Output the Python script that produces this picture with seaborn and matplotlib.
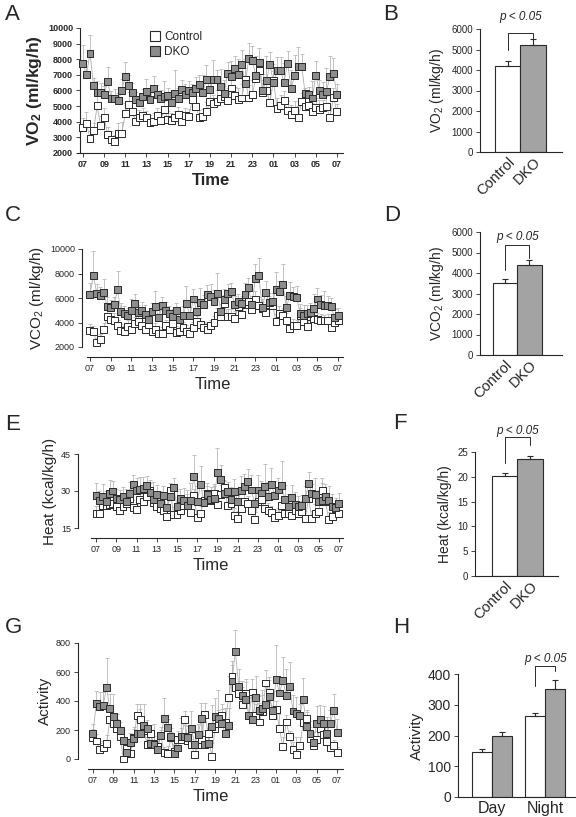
import numpy as np
import pandas as pd
import matplotlib
matplotlib.use("Agg")
import matplotlib.pyplot as plt
import seaborn as sns
from matplotlib.lines import Line2D

# --- data ------------------------------------------------------------------
GROUPS = ["Control", "DKO"]
TIME_TICKS = ["07", "09", "11", "13", "15", "17", "19", "21", "23", "01", "03", "05", "07"]

# A: VO2 over 24 h (20 min bins)
VO2_CTRL = [3660, 3870, 2930, 3420, 5010, 3780, 4290, 3170, 2890, 2740,
            3230, 3270, 4500, 5100, 4630, 4000, 4250, 4380, 4290, 3950,
            4040, 4380, 4080, 4800, 4170, 4080, 4290, 4460, 4040, 4380,
            4340, 5400, 4970, 4250, 4340, 4650, 5290, 5140, 5300, 5480,
            5610, 5350, 6160, 5650, 5440, 5520, 6710, 5520, 5740, 6780,
            7270, 5860, 6030, 5230, 6670, 4850, 5010, 5350, 4720, 4440,
            4720, 4290, 5270, 4970, 5060, 4630, 4930, 4800, 4890, 4970,
            4290, 5570, 4650]
VO2_CTRL_ERR = [600, 750, 500, 500, 700, 600, 600, 500, 500, 400,
                700, 700, 700, 800, 600, 500, 500, 500, 400, 500,
                500, 500, 400, 500, 500, 500, 400, 500, 400, 500,
                500, 600, 700, 500, 500, 600, 700, 600, 700, 700,
                700, 800, 700, 600, 700, 900, 700, 800, 900, 1000,
                700, 800, 700, 800, 600, 700, 700, 600, 600, 600,
                600, 700, 600, 600, 600, 600, 600, 600, 500, 700,
                600, 600, 500]
VO2_DKO = [7730, 7010, 8390, 6330, 5890, 5900, 5760, 6590, 5480, 5480,
           5350, 6030, 6880, 6310, 5900, 5400, 5230, 5610, 5930, 5440,
           6140, 5720, 5460, 5610, 5650, 5230, 5780, 5480, 6080, 5720,
           6030, 5890, 6140, 6400, 5900, 6730, 6080, 6730, 6730, 6250,
           5780, 7100, 6900, 7410, 7010, 7690, 6420, 8050, 7940, 6930,
           7820, 6030, 6630, 7670, 6500, 7270, 7270, 6540, 7750, 6120,
           6990, 7560, 7560, 5780, 5720, 5520, 6990, 5990, 5720, 5930,
           6880, 7100, 5720]
VO2_DKO_ERR = [1170, 900, 1150, 500, 700, 600, 500, 900, 500, 600,
               500, 700, 950, 700, 600, 500, 400, 500, 800, 650,
               800, 600, 600, 1000, 500, 500, 1500, 700, 600, 700,
               600, 500, 700, 600, 1100, 900, 700, 1200, 600, 1100,
               900, 700, 1000, 800, 1000, 900, 1600, 1000, 900, 1300,
               900, 1000, 1600, 800, 1200, 900, 900, 1200, 800, 1200,
               1300, 1200, 800, 400, 500, 1100, 900, 700, 800, 1500,
               1300, 1000, 700]

# C: VCO2
VCO2_CTRL = [3370, 3230, 2330, 2630, 3420, 4520, 4270, 4190, 3730, 3370,
             3230, 3700, 3420, 3920, 4110, 3730, 3420, 3840, 3230, 3420,
             3100, 3100, 3730, 3420, 3920, 3180, 3230, 3560, 3290, 3100,
             3560, 4050, 3840, 3560, 3450, 3730, 3970, 4550, 4470, 5560,
             4470, 4470, 4330, 5290, 4660, 5480, 5750, 5070, 5840, 5420,
             5100, 4820, 5480, 5420, 4110, 4740, 4600, 4160, 3510, 3780,
             3730, 4550, 4050, 3700, 4520, 4330, 4270, 4190, 4140, 4190,
             3590, 3970, 4190]
VCO2_CTRL_ERR = [500, 500, 400, 400, 500, 700, 500, 600, 500, 500,
                 500, 500, 500, 500, 500, 500, 500, 500, 500, 500,
                 400, 500, 500, 500, 500, 500, 400, 500, 500, 500,
                 500, 500, 500, 500, 500, 500, 600, 600, 600, 700,
                 600, 600, 600, 700, 600, 700, 700, 600, 700, 700,
                 600, 600, 700, 600, 600, 600, 600, 600, 500, 500,
                 500, 600, 500, 500, 600, 500, 500, 500, 500, 500,
                 500, 500, 500]
VCO2_DKO = [6300, 7810, 6360, 6190, 6440, 5290, 5210, 5480, 6660, 4880,
            4740, 4600, 5010, 5560, 4820, 5010, 4660, 4270, 4880, 5340,
            4380, 5370, 5010, 4710, 4470, 5010, 4270, 4550, 5560, 4550,
            5920, 4930, 5620, 5480, 6250, 6110, 5750, 6380, 4930, 5840,
            6380, 6520, 5480, 5700, 5530, 6300, 6850, 5480, 7590, 7840,
            5210, 6470, 5640, 5700, 6660, 6520, 7070, 5230, 6190, 6110,
            6050, 4740, 4550, 4740, 4820, 5150, 5920, 5480, 5370, 5370,
            5290, 4380, 4600]
VCO2_DKO_ERR = [900, 2000, 800, 700, 1100, 800, 600, 600, 1550, 700,
                600, 600, 900, 800, 600, 700, 800, 600, 700, 1200,
                600, 700, 700, 600, 600, 600, 600, 800, 1400, 700,
                800, 700, 1200, 800, 800, 1000, 900, 1700, 600, 900,
                800, 700, 700, 600, 600, 900, 800, 700, 1200, 1400,
                700, 900, 800, 700, 1500, 900, 1700, 900, 1100, 800,
                900, 800, 900, 700, 800, 1200, 900, 800, 1200, 800,
                700, 700, 600]

# E: Heat
HEAT_CTRL = [20.9, 20.9, 24.3, 24.3, 24.5, 25.0, 23.9, 22.2, 23.9, 25.0,
             27.0, 23.5, 22.5, 26.7, 25.6, 27.7, 30.1, 25.2, 23.6, 22.9,
             22.2, 19.5, 30.4, 20.5, 20.6, 22.2, 24.3, 25.9, 21.1, 28.0,
             19.2, 20.9, 26.3, 29.1, 26.3, 29.1, 24.5, 28.4, 31.5, 24.3,
             25.0, 20.2, 18.8, 22.9, 25.6, 25.0, 22.2, 18.4, 25.6, 26.7,
             22.9, 22.0, 21.1, 19.2, 20.2, 24.3, 20.9, 20.9, 20.2, 22.2,
             20.9, 21.8, 18.8, 27.0, 18.8, 20.9, 21.5, 30.1, 25.6, 18.4,
             19.5, 22.9, 20.9]
HEAT_CTRL_ERR = [3, 3, 3, 3, 3, 3, 3, 3, 3, 3,
                 4, 3, 3, 3, 3, 3, 3, 3, 3, 3,
                 3, 4, 3, 3, 3, 3, 3, 3, 4, 3,
                 3, 3, 4, 3, 3, 3, 3, 4, 3, 3,
                 3, 3, 3, 4, 3, 3, 3, 3, 4, 3,
                 3, 3, 3, 3, 3, 3, 3, 3, 3, 3,
                 3, 4, 3, 3, 3, 4, 3, 3, 3, 3,
                 3, 3, 3]
HEAT_DKO = [28.1, 26.1, 27.7, 25.9, 28.8, 30.0, 27.0, 26.6, 27.7, 25.9,
            28.8, 32.5, 30.1, 30.7, 31.1, 32.2, 29.5, 26.6, 28.6, 25.0,
            28.0, 23.3, 27.7, 31.4, 23.9, 27.0, 26.3, 24.3, 26.1, 35.9,
            25.9, 32.7, 25.4, 28.4, 26.7, 27.0, 37.5, 34.5, 29.1, 29.7,
            26.6, 29.7, 25.9, 30.1, 31.8, 33.8, 30.4, 25.0, 30.4, 29.2,
            31.8, 27.7, 32.5, 28.1, 30.4, 32.1, 26.6, 23.9, 27.3, 24.5,
            23.9, 24.3, 27.0, 32.9, 28.8, 28.4, 25.6, 26.3, 27.7, 26.1,
            23.9, 23.2, 25.0]
HEAT_DKO_ERR = [5.0, 4.0, 5.0, 4.0, 5.5, 4.0, 4.0, 4.0, 4.0, 5.0,
                5.0, 4.0, 5.0, 5.0, 4.5, 4.0, 5.0, 7.0, 4.0, 5.0,
                4.0, 6.0, 4.0, 4.0, 6.0, 4.0, 5.0, 6.0, 7.0, 8.5,
                6.0, 7.5, 5.0, 5.0, 5.0, 6.0, 10.0, 6.0, 5.0, 4.0,
                5.0, 5.0, 5.0, 6.0, 5.0, 5.0, 6.0, 5.0, 6.0, 5.0,
                9.0, 6.0, 7.0, 6.0, 5.0, 10.0, 6.0, 5.0, 5.0, 5.0,
                4.0, 4.0, 5.0, 5.0, 4.0, 7.0, 5.0, 9.0, 5.0, 6.0,
                5.0, 4.0, 4.0]

# G: Activity
ACT_CTRL = [147, 124, 67, 76, 106, 271, 244, 209, 156, 0,
            71, 41, 147, 301, 274, 198, 101, 175, 106, 83,
            160, 46, 37, 145, 55, 133, 133, 271, 124, 101,
            30, 101, 133, 308, 175, 18, 209, 248, 301, 255,
            421, 566, 492, 451, 375, 451, 301, 462, 301, 255,
            330, 524, 462, 297, 340, 209, 83, 255, 156, 64,
            30, 90, 250, 278, 140, 90, 133, 209, 170, 122,
            76, 94, 46]
ACT_CTRL_ERR = [60, 50, 40, 50, 60, 90, 70, 70, 60, 40,
                40, 40, 60, 80, 70, 60, 50, 60, 50, 40,
                40, 40, 50, 40, 50, 60, 150, 60, 40, 40,
                50, 60, 130, 80, 40, 90, 80, 90, 80, 100,
                150, 110, 100, 90, 120, 100, 120, 90, 80, 130,
                110, 90, 80, 70, 60, 100, 70, 50, 40, 50,
                120, 60, 50, 60, 80, 70, 60, 50, 60, 40,
                40, 40, 40]
ACT_DKO = [179, 386, 359, 370, 490, 347, 290, 248, 198, 129,
           48, 117, 140, 179, 179, 232, 209, 106, 99, 64,
           163, 278, 214, 152, 37, 76, 152, 152, 147, 209,
           101, 170, 278, 101, 110, 221, 290, 278, 244, 179,
           232, 538, 743, 503, 439, 409, 301, 271, 423, 336,
           347, 375, 428, 336, 549, 455, 543, 439, 501, 331,
           317, 301, 409, 221, 179, 117, 248, 271, 248, 179,
           248, 336, 186]
ACT_DKO_ERR = [60, 80, 100, 90, 210, 100, 160, 60, 60, 70,
               60, 60, 80, 80, 200, 150, 60, 60, 140, 60,
               60, 140, 60, 60, 60, 80, 60, 80, 80, 120,
               80, 70, 110, 100, 80, 150, 130, 200, 100, 90,
               120, 110, 150, 120, 100, 120, 130, 130, 150, 100,
               130, 120, 140, 130, 240, 110, 160, 180, 170, 110,
               110, 80, 150, 100, 80, 70, 120, 100, 120, 110,
               90, 110, 90]

# bar panels (mean, upper SEM)
VO2_MEAN = [4200, 5220]
VO2_SEM = [220, 270]
VCO2_MEAN = [3520, 4400]
VCO2_SEM = [180, 230]
HEAT_MEAN = [20.1, 23.5]
HEAT_SEM = [0.6, 0.7]
PERIODS = ["Day", "Night"]
ACT_MEAN_CTRL = [147, 263]
ACT_SEM_CTRL = [8, 10]
ACT_MEAN_DKO = [200, 350]
ACT_SEM_DKO = [13, 32]

TIME_H = np.linspace(0, 24, 73)

W, H = 576, 817
EDGE = "#2a2a2a"

sns.set_theme(style="ticks")
plt.rcParams["font.family"] = ["Liberation Sans", "DejaVu Sans"]
plt.rcParams["mathtext.default"] = "regular"
plt.rcParams["axes.linewidth"] = 0.8


def add_ax(fig, left, top, right, bottom):
    # posiciona o eixo em coordenadas de pixel (origem no topo)
    return fig.add_axes([left / W, 1 - bottom / H, (right - left) / W, (bottom - top) / H])


def plot_time(ax, ctrl, ctrl_err, dko, dko_err):
    zeros = np.zeros(len(TIME_H))
    for vals, errs in [(dko, dko_err), (ctrl, ctrl_err)]:
        ax.errorbar(TIME_H, vals, yerr=[zeros, errs], fmt="none", ecolor="#b8b8b8",
                    elinewidth=0.6, capsize=1.2, capthick=0.6, clip_on=False, zorder=1)
    df = pd.DataFrame({
        "time": np.concatenate([TIME_H, TIME_H]),
        "value": np.concatenate([ctrl, dko]),
        "group": ["Control"] * len(TIME_H) + ["DKO"] * len(TIME_H),
    })
    sns.lineplot(data=df, x="time", y="value", hue="group",
                 palette={"Control": "#b0b0b0", "DKO": "#b0b0b0"},
                 lw=0.6, legend=False, ax=ax, zorder=2)
    sns.scatterplot(data=df, x="time", y="value", hue="group", marker="s", s=25,
                    palette={"Control": "white", "DKO": "#8c8c8c"},
                    edgecolor=EDGE, linewidth=0.7, legend=False, ax=ax, zorder=3,
                    clip_on=False)
    ax.set_xticks(range(0, 25, 2))
    ax.set_xticklabels(TIME_TICKS)
    ax.tick_params(labelsize=6.5, length=3, width=0.6, pad=2)
    ax.spines[["top", "right"]].set_visible(False)


def style_time(ax, xlim, ylim, yticks, xbound, offset, bold, ylabel, ylab_size):
    ax.set_xlim(*xlim)
    ax.set_ylim(*ylim)
    ax.set_yticks(yticks)
    ax.spines["bottom"].set_position(("outward", offset))
    ax.spines["bottom"].set_bounds(xbound, xlim[1])
    weight = "bold" if bold else "normal"
    ax.set_xlabel("Time", fontsize=12, fontweight=weight, labelpad=3)
    ax.set_ylabel(ylabel, fontsize=ylab_size, fontweight=weight, labelpad=3)
    if bold:
        for lab in ax.get_xticklabels() + ax.get_yticklabels():
            lab.set_fontweight("bold")


def plot_pair(ax, means, sems, xlim, ylim, yticks, ylabel, bracket, ptext_y):
    df = pd.DataFrame({"group": GROUPS, "value": means})
    sns.barplot(data=df, x="group", y="value", hue="group", order=GROUPS,
                palette={"Control": "white", "DKO": "#a3a3a3"}, width=1.0,
                edgecolor=EDGE, linewidth=0.8, legend=False, ax=ax)
    ax.errorbar([0, 1], means, yerr=[[0, 0], sems], fmt="none", ecolor=EDGE,
                elinewidth=0.8, capsize=2.5, capthick=0.8)
    ax.set_xlim(*xlim)
    ax.set_ylim(*ylim)
    ax.set_yticks(yticks)
    ax.set_xlabel("")
    ax.set_ylabel(ylabel, fontsize=10, labelpad=4)
    ax.tick_params(axis="y", labelsize=7, length=3, width=0.6, pad=2)
    ax.tick_params(axis="x", labelsize=10.5, length=0, pad=2)
    for lab in ax.get_xticklabels():
        lab.set_rotation(45)
        lab.set_ha("right")
        lab.set_rotation_mode("anchor")
    ax.spines[["top", "right"]].set_visible(False)
    y_left, y_top, y_right = bracket
    ax.plot([0, 0, 1, 1], [y_left, y_top, y_top, y_right], color=EDGE, lw=0.7, clip_on=False)
    ax.text(0.5, ptext_y, "p < 0.05", ha="center", va="center", fontsize=8.5,
            style="italic", clip_on=False)


def main():
    fig = plt.figure(figsize=(W / 100, H / 100), dpi=100)

    # A
    ax = add_ax(fig, 80, 28, 343, 153)
    plot_time(ax, VO2_CTRL, VO2_CTRL_ERR, VO2_DKO, VO2_DKO_ERR)
    style_time(ax, (-0.28, 24.57), (2000, 10000), range(2000, 10001, 1000),
               -0.55, 0, True, "VO$_2$ (ml/kg/h)", 12.5)
    handles = [Line2D([], [], marker="s", ls="none", mfc="white", mec=EDGE, ms=7, mew=0.8),
               Line2D([], [], marker="s", ls="none", mfc="#8c8c8c", mec=EDGE, ms=7, mew=0.8)]
    ax.legend(handles, GROUPS, loc="upper left", bbox_to_anchor=(0.235, 1.04), frameon=False,
              fontsize=8.5, handlelength=0.8, handletextpad=0.4, labelspacing=0.25,
              borderpad=0.2)

    # C
    ax = add_ax(fig, 82, 249, 343, 347)
    plot_time(ax, VCO2_CTRL, VCO2_CTRL_ERR, VCO2_DKO, VCO2_DKO_ERR)
    style_time(ax, (-0.77, 24.48), (2000, 10000), range(2000, 10001, 2000),
               -0.3, 7, False, "VCO$_2$ (ml/kg/h)", 11)

    # E
    ax = add_ax(fig, 78, 454, 343, 528)
    plot_time(ax, HEAT_CTRL, HEAT_CTRL_ERR, HEAT_DKO, HEAT_DKO_ERR)
    style_time(ax, (-1.78, 24.4), (15, 45), [15, 30, 45],
               -0.5, 7, False, "Heat (kcal/kg/h)", 11)

    # G
    ax = add_ax(fig, 78, 643, 343, 759)
    plot_time(ax, ACT_CTRL, ACT_CTRL_ERR, ACT_DKO, ACT_DKO_ERR)
    style_time(ax, (-1.47, 24.58), (0, 800), range(0, 801, 200),
               -0.5, 7, False, "Activity", 11)

    # B
    ax = add_ax(fig, 480, 29, 562, 152)
    plot_pair(ax, VO2_MEAN, VO2_SEM, (-1.08, 2.14), (0, 6000), range(0, 6001, 1000),
              "VO$_2$ (ml/kg/h)", (4980, 5800, 5460), 6600)

    # D
    ax = add_ax(fig, 480, 232, 562, 355)
    plot_pair(ax, VCO2_MEAN, VCO2_SEM, (-1.02, 2.33), (0, 6000), range(0, 6001, 1000),
              "VCO$_2$ (ml/kg/h)", (4150, 5350, 4750), 5750)

    # F
    ax = add_ax(fig, 475, 452, 558, 576)
    plot_pair(ax, HEAT_MEAN, HEAT_SEM, (-1.16, 2.1), (0, 25), range(0, 26, 5),
              "Heat (kcal/kg/h)", (22.8, 28.0, 26.4), 29.3)

    # H
    ax = add_ax(fig, 458, 674, 576, 797)
    df = pd.DataFrame({
        "period": PERIODS * 2,
        "group": ["Control"] * 2 + ["DKO"] * 2,
        "activity": ACT_MEAN_CTRL + ACT_MEAN_DKO,
    })
    sns.barplot(data=df, x="period", y="activity", hue="group", order=PERIODS,
                hue_order=GROUPS, palette={"Control": "white", "DKO": "#a3a3a3"},
                width=0.76, edgecolor=EDGE, linewidth=0.8, legend=False, ax=ax)
    xs = np.arange(len(PERIODS))
    ax.errorbar(xs - 0.19, ACT_MEAN_CTRL, yerr=[[0, 0], ACT_SEM_CTRL], fmt="none",
                ecolor=EDGE, elinewidth=0.8, capsize=2.5, capthick=0.8)
    ax.errorbar(xs + 0.19, ACT_MEAN_DKO, yerr=[[0, 0], ACT_SEM_DKO], fmt="none",
                ecolor=EDGE, elinewidth=0.8, capsize=2.5, capthick=0.8)
    ax.set_xlim(-0.64, 1.58)
    ax.set_ylim(0, 400)
    ax.set_yticks(range(0, 401, 100))
    ax.set_xlabel("")
    ax.set_ylabel("Activity", fontsize=11, labelpad=3)
    ax.tick_params(axis="y", labelsize=10, length=3, width=0.6, pad=2)
    ax.tick_params(axis="x", labelsize=11.5, length=0, pad=3)
    ax.spines[["top", "right"]].set_visible(False)
    ax.plot([0.81, 0.81, 1.19, 1.19], [361, 426, 426, 410], color=EDGE, lw=0.7, clip_on=False)
    ax.text(1.0, 449, "p < 0.05", ha="center", va="center", fontsize=8.5,
            style="italic", clip_on=False)

    # letras dos paineis
    for letter, x, y in [("A", 5, 4), ("B", 383, 4), ("C", 5, 205), ("D", 384, 205),
                         ("E", 5, 414), ("F", 393, 413), ("G", 5, 617), ("H", 393, 617)]:
        fig.text(x / W, 1 - y / H, letter, fontsize=16, ha="left", va="top")

    fig.savefig("out.png", dpi=100)
    plt.close(fig)


if __name__ == "__main__":
    main()
